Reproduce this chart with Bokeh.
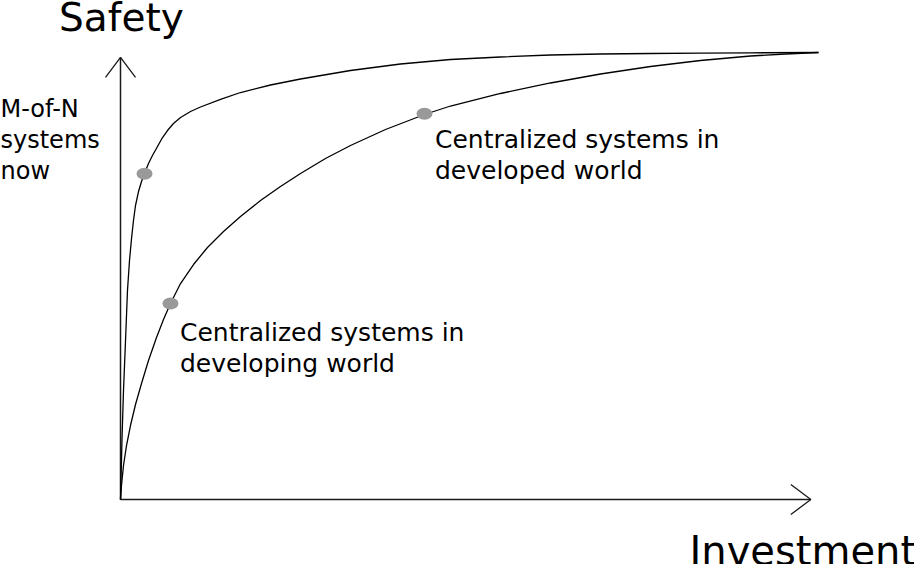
from bokeh.plotting import figure
from bokeh.models import Range1d, ColumnDataSource
from bokeh.core.properties import value
from bokeh.embed import file_html
from bokeh.resources import INLINE

# ---- data (conceptual units: investment 0..100, safety 0..100) ----
mofn_investment = [0, 0.07, 0.21, 0.43, 0.72, 1.00, 1.29, 1.58, 1.86, 2.15, 2.58, 3.01,
                   3.44, 4.01, 4.58, 5.30, 6.02, 6.73, 7.59, 8.60, 10.03, 11.46, 14.33,
                   17.19, 21.49, 25.79, 32.95, 40.11, 47.28, 54.44, 61.60, 68.77, 75.93,
                   83.09, 90.26, 100]
mofn_safety = [0, 4.25, 13.2, 24.38, 35.57, 46.76, 53.47, 58.39, 62.42, 65.77, 68.90, 71.14,
               72.93, 75.17, 76.96, 78.97, 80.98, 82.55, 84.12, 85.46, 86.80, 87.81, 89.49,
               91.05, 92.73, 94.07, 95.97, 97.43, 98.43, 98.99, 99.44, 99.66, 99.78,
               99.87, 99.93, 100]

central_investment = [0, 0.14, 0.43, 0.86, 1.43, 2.15, 3.01, 4.01, 5.16, 6.16, 7.16, 8.60,
                      10.46, 12.46, 14.76, 17.19, 20.06, 22.92, 25.79, 29.37, 32.95, 37.97,
                      43.55, 47.28, 54.44, 61.60, 68.77, 75.93, 83.09, 90.26, 95.27, 100]
central_safety = [0, 3.13, 7.61, 12.08, 16.55, 21.25, 25.95, 31.10, 36.24, 40.27, 43.85, 48.32,
                  52.57, 56.38, 59.96, 63.31, 66.89, 70.02, 72.93, 76.29, 79.19, 82.77,
                  86.13, 88.03, 90.83, 93.18, 95.19, 96.87, 98.21, 99.22, 99.66, 100]

point_investment = [3.44, 7.16, 43.55]
point_safety = [72.9, 43.85, 86.3]

axis_length = 98.9
x_title = "Investment"
y_title = "Safety"
mofn_label = ["M-of-N", "systems", "now"]
developed_label = ["Centralized systems in", "developed world"]
developing_label = ["Centralized systems in", "developing world"]

# ---- layout ----
W, H = 914, 564
SX, SY = 6.98, 4.47          # pixels per unit
OX, OY = 120, 499            # origin in pixels (from top-left)

p = figure(width=W, height=H, output_backend="svg", toolbar_location=None,
           x_range=Range1d(-OX / SX, (W - OX) / SX),
           y_range=Range1d(-(H - OY) / SY, OY / SY),
           min_border=0, min_border_left=0, min_border_right=0,
           min_border_top=0, min_border_bottom=0)
p.xaxis.visible = False
p.yaxis.visible = False
p.xgrid.visible = False
p.ygrid.visible = False
p.outline_line_color = None
p.background_fill_color = "white"
p.border_fill_color = "white"

AX_COL = "#1a1a1a"
# axes with open arrowheads
wing_w, wing_l = 15, 20
p.line([0, 0], [0, axis_length], line_color=AX_COL, line_width=1.5)
p.line([-wing_w / SX, 0, wing_w / SX],
       [axis_length - wing_l / SY, axis_length, axis_length - wing_l / SY],
       line_color=AX_COL, line_width=1.3)
p.line([0, axis_length], [0, 0], line_color=AX_COL, line_width=1.5)
p.line([axis_length - wing_l / SX, axis_length, axis_length - wing_l / SX],
       [wing_w / SY, 0, -wing_w / SY], line_color=AX_COL, line_width=1.3)

# curves
p.line(mofn_investment, mofn_safety, line_color="black", line_width=1.3,
       line_join="round")
p.line(central_investment, central_safety, line_color="black", line_width=1.3,
       line_join="round")

# points
p.ellipse(point_investment, point_safety, width=16, height=12,
          width_units="screen", height_units="screen",
          fill_color="#999999", line_color=None)

FONT = value("DejaVu Sans")

def px_x(px):
    return (px - OX) / SX

def px_y(py):
    return (OY - py) / SY

def add_lines(lines, x_px, base_px, step_px, size):
    src = ColumnDataSource(dict(
        x=[px_x(x_px)] * len(lines),
        y=[px_y(base_px + i * step_px) for i in range(len(lines))],
        t=lines))
    p.text(x="x", y="y", text="t", source=src, text_font=FONT,
           text_font_size=value(size), text_color="black",
           text_align="left", text_baseline="alphabetic")

add_lines([y_title], 58.5, 17, 0, "39px")
add_lines([x_title], 689, 550, 0, "40px")
add_lines(mofn_label, 0, 108.5, 31, "24px")
add_lines(developed_label, 434.5, 139, 31, "25px")
add_lines(developing_label, 179.5, 332, 31, "25px")

open("out.html", "w").write(file_html(p, INLINE))
